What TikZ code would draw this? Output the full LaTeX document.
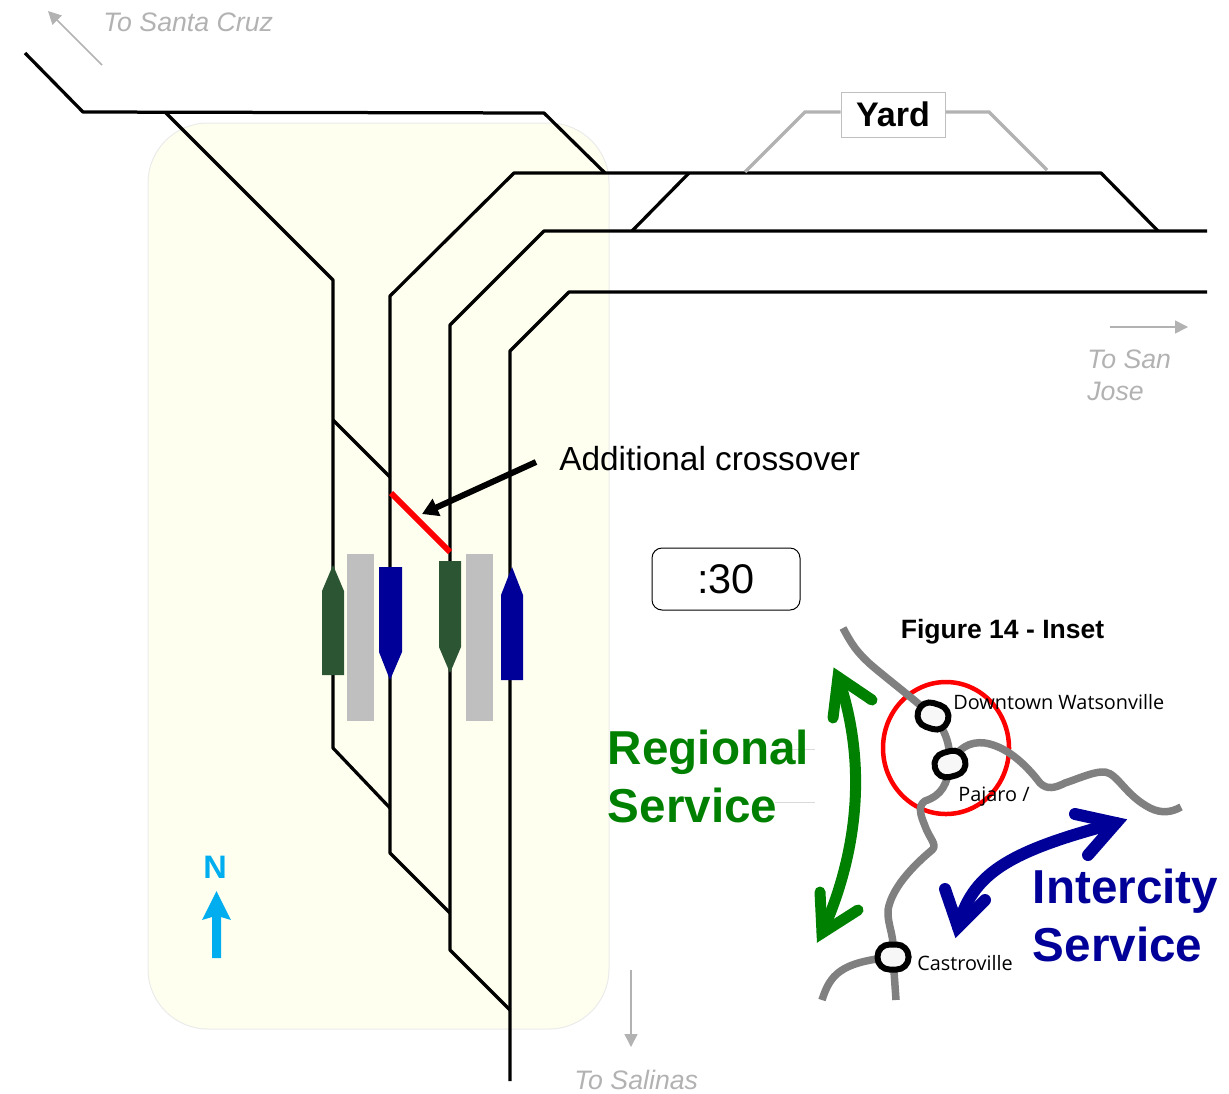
\documentclass[tikz,border=0pt]{standalone}
\usepackage{fontspec}
\setmainfont{Liberation Sans}
\newfontfamily\insetfont{Open Sans}
\usetikzlibrary{arrows.meta}
\definecolor{railblue}{HTML}{000099}
\definecolor{railgreen}{HTML}{2C5533}
\definecolor{regional}{HTML}{008000}
\definecolor{platform}{HTML}{BFBFBF}
\definecolor{faded}{HTML}{B2B2B2}
\definecolor{station}{HTML}{FFFFF0}
\definecolor{northcol}{HTML}{00AEEF}
\definecolor{inset}{HTML}{808080}
\tikzset{   track/.style = {draw = black, line width = .065cm, line join = round},
            yardline/.style = {draw = faded, line width = .065cm},
            pointer/.style = {draw = faded, line width = .03cm, -{Triangle[length = .26cm, width = .26cm]}},
            faintlabel/.style = {text = faded, inner sep = 0, anchor = west, font = \fontsize{15.2}{18.1}\selectfont\itshape},
            servicelabel/.style = {inner sep = 0, anchor = west, align = left, font = \fontsize{27.1}{33.2}\selectfont\bfseries},
            placelabel/.style = {inner sep = 0, anchor = west, font = \fontsize{11.3}{13}\selectfont\insetfont},
            stop/.style = {draw = black, fill = white!97!black, line width = .12cm, rounded corners = .24cm, minimum width = .62cm, minimum height = .5cm, inner sep = 0},
            insetline/.style = {draw = inset, line width = .15cm, line join = round},
            bigarrow/.style = {line width = .22cm, line cap = round, miter limit = 10}}

\begin{document}
\begin{tikzpicture}[x = .02cm, y = -.02cm]
    \useasboundingbox (0, 0) rectangle (1229, 1093);
    \draw[fill = station, draw = black!8, line width = .02cm, rounded corners = 1.2cm] (148, 123) rectangle (609, 1029);

    \draw[track] (25, 53) -- (83, 112) -- (544, 113) -- (605, 173);
    \draw[track] (165, 112) -- (333, 280) -- (333, 748) -- (390, 808);
    \draw[track] (450, 913) -- (390, 853) -- (390, 296) -- (514, 173) -- (1101, 173) -- (1158, 231);
    \draw[track] (510, 1010) -- (450, 950) -- (450, 325) -- (544, 231) -- (1207, 231);
    \draw[track] (510, 1081) -- (510, 351) -- (569, 292) -- (1207, 292);
    \draw[track] (333, 420) -- (390, 477);
    \draw[track] (632, 231) -- (689, 173);
    \draw[draw = red, line width = .12cm] (391, 493) -- (450, 552);

    \fill[platform] (347, 554) rectangle (374, 721);
    \fill[platform] (466, 554) rectangle (493, 721);
    \fill[railgreen] (322, 675) -- (322, 591) -- (333, 565) -- (344, 591) -- (344, 675) -- cycle;
    \fill[railblue] (379, 567) -- (402, 567) -- (402, 652) -- (390, 680) -- (379, 652) -- cycle;
    \fill[railgreen] (439, 561) -- (461, 561) -- (461, 647) -- (450, 673) -- (439, 647) -- cycle;
    \fill[railblue] (501, 680) -- (501, 595) -- (512, 567) -- (523, 595) -- (523, 680) -- cycle;

    \coordinate (crossfrom) at (536, 462);
    \coordinate (crosstip) at (422, 514);
    \draw[line width = .12cm, -{Triangle[length = .32cm, width = .36cm]}] (crossfrom) -- (crosstip);
    \node[inner sep = 0, anchor = west, font = \fontsize{19}{22}\selectfont] (crosslabel) at (559, 459) {Additional crossover};

    \node[draw = black!25, fill = white, line width = .02cm, minimum width = 2.08cm, minimum height = .9cm, inner sep = 0, font = \fontsize{19.4}{22}\selectfont\bfseries] (yardbox) at (893, 114.5) {Yard};
    \coordinate (yardbendl) at (805, 112);
    \coordinate (yardbendr) at (989, 112);
    \coordinate (yardleft) at (745, 172);
    \coordinate (yardright) at (1047, 170);
    \draw[yardline] (yardbox.west |- yardbendl) -- (yardbendl) -- (yardleft);
    \draw[yardline] (yardbox.east |- yardbendr) -- (yardbendr) -- (yardright);

    \coordinate (cruzfrom) at (102, 65);
    \coordinate (cruzto) at (48, 11);
    \draw[pointer] (cruzfrom) -- (cruzto);
    \node[faintlabel] (cruzlabel) at (103, 22) {To Santa Cruz};
    \coordinate (josefrom) at (1110, 327);
    \coordinate (joseto) at (1188, 327);
    \draw[pointer] (josefrom) -- (joseto);
    \node[faintlabel, align = left] (joselabel) at (1087, 375) {To San\\Jose};
    \coordinate (salinasfrom) at (631, 970);
    \coordinate (salinasto) at (631, 1047);
    \draw[pointer] (salinasfrom) -- (salinasto);
    \node[faintlabel] (salinaslabel) at (574, 1080) {To Salinas};

    \node[text = northcol, inner sep = 0, font = \fontsize{18.5}{20}\selectfont\bfseries] (north) at (215, 867) {N};
    \fill[northcol] (216.5, 891) -- (231, 920) -- (221, 917) -- (221, 958) -- (212, 958) -- (212, 917) -- (202, 920) -- cycle;

    \node[draw = black, rounded corners = .2cm, line width = .02cm, minimum width = 2.96cm, minimum height = 1.24cm, inner sep = 0, font = \fontsize{23.6}{26}\selectfont] (timebox) at (726, 579) {\raisebox{-1.5pt}{:30}};

    \draw[draw = black!15, line width = .02cm] (790, 749) -- (815, 749);
    \draw[draw = black!15, line width = .02cm] (775, 802) -- (815, 802);

    \node[inner sep = 0, font = \fontsize{15.1}{18}\selectfont\bfseries] (insettitle) at (1002.5, 632) {Figure 14 - Inset};

    \draw[draw = red, line width = .09cm] (946, 748) ellipse (63 and 66);
    \coordinate (downtownstop) at (933, 716);
    \coordinate (pajarostop) at (950, 764);
    \coordinate (castrostop) at (893, 957);
    \draw[insetline] (843, 628) .. controls (852, 645) and (857, 652) .. (870, 664) .. controls (885, 677) and (905, 692) .. (downtownstop);
    \draw[insetline] (downtownstop) .. controls (945, 730) and (950, 742) .. (pajarostop);
    \draw[insetline] (pajarostop) .. controls (947, 785) and (942, 795) .. (925, 801) .. controls (917, 806) and (921, 816) .. (925, 826) .. controls (929, 838) and (938, 845) .. (932, 850) .. controls (920, 860) and (892, 885) .. (888, 910) .. controls (887, 925) and (895, 935) .. (castrostop);
    \draw[insetline] (castrostop) -- (896, 1000);
    \draw[insetline] (pajarostop) .. controls (958, 748) and (970, 741) .. (985, 743) .. controls (1010, 747) and (1030, 770) .. (1040, 783) .. controls (1047, 790) and (1055, 788) .. (1065, 783) .. controls (1080, 778) and (1095, 771) .. (1105, 772) .. controls (1118, 774) and (1125, 795) .. (1150, 808) .. controls (1162, 814) and (1172, 812) .. (1181, 807);
    \draw[insetline] (822, 1000) .. controls (830, 975) and (840, 962) .. (castrostop);
    \node[stop, rotate = -18] (downtown) at (downtownstop) {};
    \node[stop, rotate = 15] (pajaro) at (pajarostop) {};
    \node[stop] (castro) at (castrostop) {};
    \node[placelabel] (downtownlabel) at (953, 702) {Downtown Watsonville};
    \node[placelabel] (pajarolabel) at (958, 797) {Pajaro /};
    \node[placelabel] (castrolabel) at (917, 963) {Castroville};

    \begin{scope}[bigarrow, draw = regional]
        \draw (838, 677) .. controls (860, 740) and (868, 830) .. (822, 933);
        \draw (872, 700) -- (838, 677) -- (833, 718);
        \draw (820, 892) -- (822, 933) -- (858, 910);
    \end{scope}
    \begin{scope}[bigarrow, line width = .24cm, draw = railblue]
        \draw (958, 927) .. controls (972, 875) and (1005, 852) .. (1116, 823);
        \draw (1075, 814) -- (1116, 823) -- (1088, 855);
        \draw (945, 889) -- (958, 927) -- (985, 900);
    \end{scope}

    \node[servicelabel, text = regional] (regionallabel) at (607.5, 776.5) {Regional\\Service};
    \node[servicelabel, text = railblue] (intercitylabel) at (1032.5, 915.5) {Intercity\\Service};
\end{tikzpicture}
\end{document}
